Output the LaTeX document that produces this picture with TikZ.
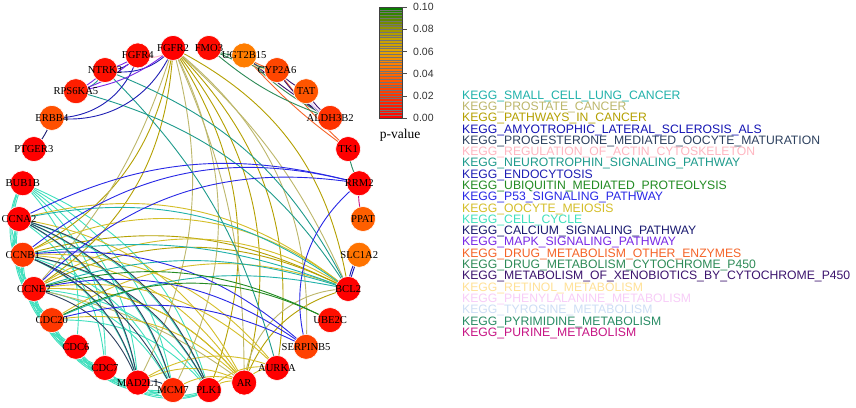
\documentclass[tikz,border=0pt]{standalone}
\usepackage{fontspec}
\setmainfont{Liberation Serif}
\newfontfamily\arialf{Liberation Sans}
\pgfdeclarelayer{paper}
\pgfdeclarelayer{edges}
\pgfsetlayers{paper,edges,main}
\definecolor{csclc}{RGB}{32,178,170}
\definecolor{cpro}{RGB}{189,183,107}
\definecolor{cpic}{RGB}{180,160,0}
\definecolor{cals}{RGB}{20,20,180}
\definecolor{cprog}{RGB}{45,65,95}
\definecolor{cact}{RGB}{255,182,193}
\definecolor{cneu}{RGB}{30,155,140}
\definecolor{cendo}{RGB}{30,30,180}
\definecolor{cubi}{RGB}{34,139,34}
\definecolor{cp53}{RGB}{40,40,230}
\definecolor{cooc}{RGB}{212,190,40}
\definecolor{ccc}{RGB}{64,224,190}
\definecolor{ccal}{RGB}{25,25,112}
\definecolor{cmapk}{RGB}{120,40,230}
\definecolor{cdoe}{RGB}{245,100,40}
\definecolor{cdcyp}{RGB}{46,139,87}
\definecolor{cxeno}{RGB}{60,20,110}
\definecolor{cret}{RGB}{255,225,150}
\definecolor{cphe}{RGB}{248,205,248}
\definecolor{ctyr}{RGB}{205,222,245}
\definecolor{cpyr}{RGB}{40,140,100}
\definecolor{cpur}{RGB}{199,21,133}
\definecolor{cbA}{RGB}{255,0,0}
\definecolor{cbB}{RGB}{255,130,0}
\definecolor{cbC}{RGB}{228,165,0}
\definecolor{cbD}{RGB}{185,160,0}
\definecolor{cbE}{RGB}{125,140,0}
\definecolor{cbF}{RGB}{0,125,0}
\newcommand\barseg[4]{%
  \foreach \k in {#1,...,#2}{%
    \pgfmathtruncatemacro\p{round(100*(\k-#1+0.5)/(#2-#1+1))}%
    \colorlet{bc}{#4!\p!#3}%
    \fill[bc] (379,{-118+\k*2.775}) rectangle (402,{-118+(\k+1)*2.775});
  }}
\tikzset{
  genenode/.style={circle, minimum size=25pt, inner sep=0pt, draw=white, line width=0.6pt},
  genelab/.style={inner sep=0pt, font=\fontsize{10.6}{11}\selectfont, text=black},
  lnk/.style={line width=0.9pt},
  legtext/.style={anchor=base west, inner sep=0pt, font=\arialf\fontsize{12.2}{13}\selectfont},
  ticklab/.style={anchor=west, inner sep=0pt, font=\arialf\fontsize{10.5}{12}\selectfont, text=black!80}
}
\begin{document}
\begin{tikzpicture}[x=1pt,y=1pt]
\begin{pgfonlayer}{paper}
\fill[white] (0,0) rectangle (856,-407);
\end{pgfonlayer}
\path[use as bounding box] (0,0) rectangle (856,-407);
% genes on the circle
\foreach \i/\lab/\g in {0/FMO3/10,1/UGT2B15/125,2/CYP2A6/70,3/TAT/85,4/ALDH3B2/50,5/TK1/0,6/RRM2/0,7/PPAT/95,8/SLC1A2/115,9/BCL2/0,10/UBE2C/15,11/SERPINB5/65,12/AURKA/0,13/AR/0,14/PLK1/0,15/MCM7/40,16/MAD2L1/0,17/CDC7/0,18/CDC6/0,19/CDC20/55,20/CCNE2/10,21/CCNB1/55,22/CCNA2/0,23/BUB1B/0,24/PTGER3/0,25/ERBB4/80,26/RPS6KA5/30,27/NTRK2/15,28/FGFR4/10,29/FGFR2/0}{
  \pgfmathsetmacro\ang{84-12*\i}
  \node[genenode, fill={rgb,255:red,255;green,\g;blue,0}] (v\i) at ({191+172*cos(\ang)},{-219+172*sin(\ang)}) {};
  \node[genelab] (l\i) at (v\i.center) {\lab};
}
\begin{pgfonlayer}{edges}
% cell cycle
\foreach \i in {15,...,23}{
  \pgfmathtruncatemacro\kk{\i-1}
  \foreach \j in {14,...,\kk}{
    \pgfmathtruncatemacro\d{\i-\j}
    \ifnum\d<5
      \draw[lnk,draw=ccc] (v\i.center) to[bend right=35] (v\j.center);
    \else
      \draw[lnk,draw=ccc] (v\i.center) to[bend left=26] (v\j.center);
    \fi
  }
}
\foreach \c/\i/\j/\b in {
  cpic/29/13/18, cpic/29/9/18, cpic/29/20/18, cpic/29/12/18, cpic/29/14/18, cpic/29/21/18, cpic/20/13/18, cpic/20/9/18, cpic/13/9/18, cpic/21/9/14,
  cpro/29/13/8, cpro/29/9/8, cpro/29/20/8, cpro/29/15/18, cpro/29/11/18, cpro/20/13/8, cpro/13/9/28, cpro/29/16/14,
  cooc/21/13/18, cooc/20/13/18, cooc/19/13/18, cooc/16/13/18, cooc/15/13/18, cooc/14/13/18, cooc/21/9/22, cooc/20/9/22, cooc/19/9/18, cooc/22/13/18, cooc/21/12/18, cooc/20/12/18, cooc/16/12/18, cooc/14/12/18, cooc/13/12/18, cooc/22/9/18,
  cprog/22/16/18, cprog/22/14/18, cprog/21/16/18, cprog/21/14/18, cprog/20/16/18, cprog/22/15/18, cprog/16/15/18, cprog/21/15/14,
  csclc/20/9/12, csclc/21/9/10, csclc/22/9/16, csclc/19/9/12,
  cneu/27/9/14, cneu/26/9/14, cneu/27/26/18, cneu/27/12/10,
  cp53/21/6/18, cp53/20/6/18, cp53/22/6/14, cp53/21/11/16, cp53/20/11/16, cp53/11/6/22, cp53/19/11/14,
  cendo/29/25/25, cendo/28/25/25, cendo/28/27/18, cendo/29/27/20,
  cals/9/8/10, cals/9/8/3,
  cubi/19/10/18, cubi/20/10/14,
  ccal/25/24/8,
  cmapk/27/26/6, cmapk/28/27/6, cmapk/28/26/9, cmapk/29/26/10,
  cact/29/28/20,
  cdoe/2/1/8, cdoe/5/1/4, cdoe/5/2/3,
  cdcyp/1/0/9, cdcyp/2/0/7, cdcyp/2/1/14, cdcyp/4/0/7, cdcyp/4/1/6,
  cxeno/4/1/3, cxeno/4/2/10, cxeno/3/2/7, cxeno/4/3/7,
  cret/2/1/20, cphe/4/3/15, ctyr/4/3/20,
  cpyr/6/5/7, cpur/7/6/8}{
  \pgfmathsetmacro\bb{\b*1.5}
  \draw[lnk,draw=\c] (v\i.center) to[bend left=\bb] (v\j.center);
}
\end{pgfonlayer}
% colour bar
\barseg{0}{19}{cbA}{cbB}
\barseg{20}{23}{cbB}{cbC}
\barseg{24}{29}{cbC}{cbD}
\barseg{30}{33}{cbD}{cbE}
\barseg{34}{39}{cbE}{cbF}
\foreach \k in {0,...,40}{
  \draw[black!55, line width=0.3pt] (379,{-118+\k*2.775}) -- (402,{-118+\k*2.775});
}
\draw[black!75, line width=0.5pt] (379,-118) rectangle (402,-7);
\foreach \k/\t in {0/0.00,1/0.02,2/0.04,3/0.06,4/0.08,5/0.10}{
  \draw[black!70, line width=0.5pt] (402,{-118+\k*22.2}) -- (407,{-118+\k*22.2});
  \node[ticklab] (t\k) at (413,{-118+\k*22.2}) {\t};
}
\node[font=\fontsize{13.5}{15}\selectfont] (pv) at (400,-135) {p-value};
% legend
\foreach \k/\c/\t in {
  1/csclc/KEGG\_SMALL\_CELL\_LUNG\_CANCER,
  2/cpro/KEGG\_PROSTATE\_CANCER,
  3/cpic/KEGG\_PATHWAYS\_IN\_CANCER,
  4/cals/KEGG\_AMYOTROPHIC\_LATERAL\_SCLEROSIS\_ALS,
  5/cprog/KEGG\_PROGESTERONE\_MEDIATED\_OOCYTE\_MATURATION,
  6/cact/KEGG\_REGULATION\_OF\_ACTIN\_CYTOSKELETON,
  7/cneu/KEGG\_NEUROTROPHIN\_SIGNALING\_PATHWAY,
  8/cendo/KEGG\_ENDOCYTOSIS,
  9/cubi/KEGG\_UBIQUITIN\_MEDIATED\_PROTEOLYSIS,
  10/cp53/KEGG\_P53\_SIGNALING\_PATHWAY,
  11/cooc/KEGG\_OOCYTE\_MEIOSIS,
  12/ccc/KEGG\_CELL\_CYCLE,
  13/ccal/KEGG\_CALCIUM\_SIGNALING\_PATHWAY,
  14/cmapk/KEGG\_MAPK\_SIGNALING\_PATHWAY,
  15/cdoe/KEGG\_DRUG\_METABOLISM\_OTHER\_ENZYMES,
  16/cdcyp/KEGG\_DRUG\_METABOLISM\_CYTOCHROME\_P450,
  17/cxeno/KEGG\_METABOLISM\_OF\_XENOBIOTICS\_BY\_CYTOCHROME\_P450,
  18/cret/KEGG\_RETINOL\_METABOLISM,
  19/cphe/KEGG\_PHENYLALANINE\_METABOLISM,
  20/ctyr/KEGG\_TYROSINE\_METABOLISM,
  21/cpyr/KEGG\_PYRIMIDINE\_METABOLISM,
  22/cpur/KEGG\_PURINE\_METABOLISM}{
  \node[legtext, text=\c] (g\k) at (462,{-(95+11.29*(\k-1)+4.2)}) {\t};
}
\end{tikzpicture}
\end{document}
